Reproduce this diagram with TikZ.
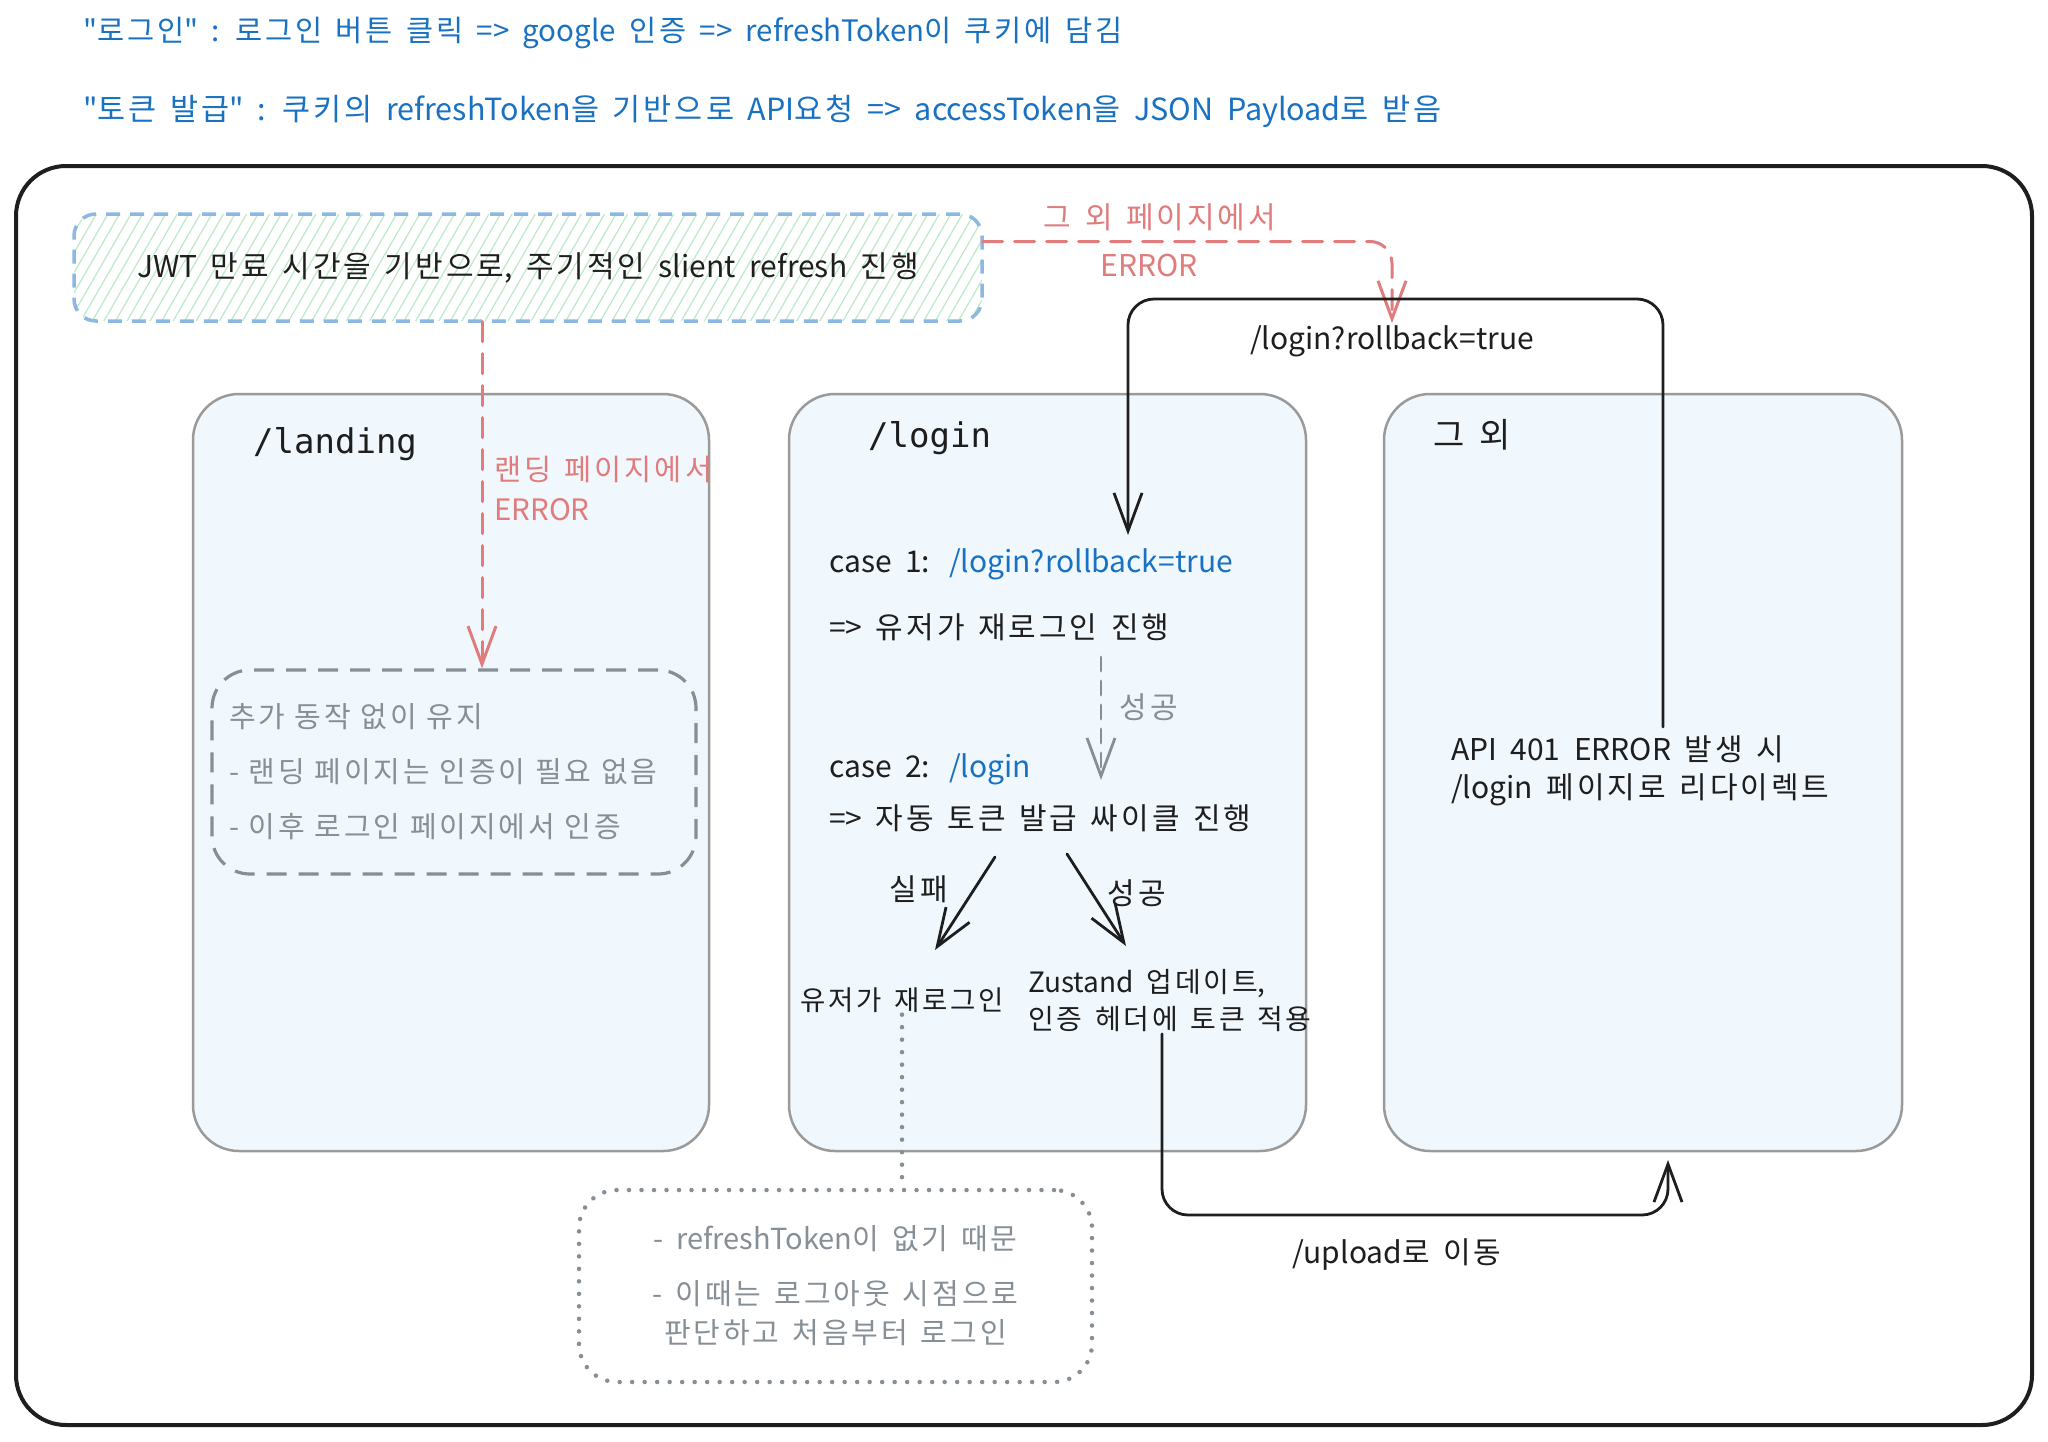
\documentclass[tikz,border=0pt]{standalone}
\usepackage{fontspec}
\setmainfont{Noto Sans CJK KR}[WordSpace=2.0]
\newfontfamily\mymono{DejaVu Sans Mono}
\usetikzlibrary{arrows.meta,patterns.meta}
% extra spacing between Hangul syllables
\XeTeXinterchartokenstate=1
\newXeTeXintercharclass\hangulcls
\newcount\hgc
\hgc="AC00
\loop
  \XeTeXcharclass\hgc=\hangulcls
  \ifnum\hgc<"D7A3 \advance\hgc by 1
\repeat
\XeTeXinterchartoks\hangulcls\hangulcls={\kern0.1em}
\definecolor{cblue}{HTML}{1971C2}
\definecolor{cred}{HTML}{E07C7C}
\definecolor{cgray}{HTML}{868E96}
\definecolor{boxgray}{HTML}{9A9A9A}
\definecolor{boxfill}{HTML}{F1F8FD}
\definecolor{jwtblue}{HTML}{8DB8E2}
\definecolor{hatchc}{HTML}{BDE9C6}
\definecolor{ink}{HTML}{1E1E1E}
\newcommand\fsTop{\fontsize{29.5}{34}\selectfont}
\newcommand\fsBody{\fontsize{30}{38}\selectfont}
\newcommand\fsGray{\fontsize{29}{55}\selectfont}
\newcommand\fsTitle{\fontsize{34}{40}\selectfont}
\begin{document}
\begin{tikzpicture}[x=1pt,y=-1pt,
  txt/.style={inner sep=2pt, font=\fsBody, text=ink},
  toptxt/.style={inner sep=2pt, font=\fsTop, text=cblue, anchor=west},
  redlbl/.style={inner sep=2pt, font=\fsBody, text=cred},
  graylbl/.style={inner sep=2pt, font=\fsBody, text=cgray},
  frame/.style={draw=ink, line width=4pt, rounded corners=50pt},
  page/.style={draw=boxgray, line width=2.5pt, fill=boxfill, rounded corners=46pt},
  jwtbox/.style={draw=jwtblue, line width=3.5pt, dash pattern=on 14pt off 10pt,
    rounded corners=22pt, pattern={Lines[angle=60,distance=10pt,line width=1.2pt]},
    pattern color=hatchc, font=\fsBody, text=ink},
  ldboxst/.style={draw=cgray, line width=3.2pt, dash pattern=on 20pt off 12pt,
    rounded corners=38pt, font=\fsGray, text=cgray},
  dotboxst/.style={draw=cgray, line width=4.5pt, line cap=round, dash pattern=on 0pt off 12.5pt,
    rounded corners=38pt, font=\fsGray, text=cgray},
  dotline/.style={draw=cgray, line width=4.5pt, line cap=round, dash pattern=on 0pt off 12.5pt},
  arr/.style={-{Straight Barb[length=38pt,width=28pt]}, line width=2.8pt, line cap=round, line join=round, draw=ink},
  redarr/.style={arr, draw=cred, dash pattern=on 20pt off 12pt, line width=3pt},
  grayarr/.style={arr, draw=cgray, dash pattern=on 14pt off 10pt, line width=2.8pt},
  title/.style={inner sep=2pt, anchor=west, text=ink}
]
\useasboundingbox[fill=white] (0,0) rectangle (2048,1441);

% top notes
\node[toptxt] (note1) at (81,33) {\textquotedbl 로그인\textquotedbl{} : 로그인 버튼 클릭 => google 인증 => refreshToken이 쿠키에 담김};
\node[toptxt, font=\fontsize{30.5}{34}\selectfont] (note2) at (81,111) {\textquotedbl 토큰 발급\textquotedbl{} : 쿠키의 refreshToken을 기반으로 API요청 => accessToken을 JSON Payload로 받음};

% outer frame
\node[frame, minimum width=2016pt, minimum height=1259pt] (frame) at (1024,795.5) {};

% page boxes
\node[page, minimum width=516pt, minimum height=757pt] (landing) at (451,772.5) {};
\node[page, minimum width=517pt, minimum height=757pt] (login) at (1047.5,772.5) {};
\node[page, minimum width=518pt, minimum height=757pt] (other) at (1643,772.5) {};

\node[title, font=\mymono\fsTitle] (landingT) at (251,444) {/landing};
\node[title, font=\mymono\fsTitle] (loginT) at (866,438) {/login};
\node[title, font=\fontsize{34}{40}\selectfont] (otherT) at (1431,435) {그 외};

% JWT box
\node[jwtbox, minimum width=908pt, minimum height=107pt] (jwt) at (528,267.5)
  {JWT 만료 시간을 기반으로, 주기적인 slient refresh 진행};

% landing inner dashed box
\node[ldboxst, minimum width=484pt, minimum height=204pt, text width=450pt, align=left] (ldbox) at (454,772)
  {추가 동작 없이 유지\\- 랜딩 페이지는 인증이 필요 없음\\- 이후 로그인 페이지에서 인증};

% login contents
\node[txt, anchor=west] (case1) at (827,564) {\makebox[120pt][l]{case 1:}\textcolor{cblue}{/login?rollback=true}};
\node[txt, anchor=west] (case1b) at (827,627) {=> 유저가 재로그인 진행};
\node[txt, anchor=west] (case2) at (827,769) {\makebox[120pt][l]{case 2:}\textcolor{cblue}{/login}};
\node[txt, anchor=west] (case2b) at (827,818) {=> 자동 토큰 발급 싸이클 진행};
\node[txt, font=\fontsize{27.5}{36}\selectfont] (retry) at (902,1000) {유저가 재로그인};
\node[txt, anchor=west, align=left, font=\fontsize{28}{37}\selectfont] (zus) at (1026,1000.5) {Zustand 업데이트,\\인증 헤더에 토큰 적용};

\node[graylbl] (ok1) at (1149,707) {성공};
\node[txt] (failL) at (919,889) {실패};
\node[txt] (okL) at (1137,893) {성공};

% other contents
\node[txt, anchor=west, align=left] (api) at (1449,771) {API 401 ERROR 발생 시\\/login 페이지로 리다이렉트};

% labels
\node[txt] (rbl) at (1392,341) {/login?rollback=true};
\node[redlbl] (redtop1) at (1160,217) {그 외 페이지에서};
\node[redlbl] (redtop2) at (1149,265) {ERROR};
\node[redlbl, anchor=west, align=left, font=\fontsize{29.5}{40}\selectfont] (lderr) at (492,488) {랜딩 페이지에서\\ERROR};
\node[txt] (uplbl) at (1397,1255) {/upload로 이동};

% dotted box
\node[dotboxst, minimum width=513pt, minimum height=192pt, align=center] (dotbox) at (835.5,1286)
  {- refreshToken이 없기 때문\\- 이때는 로그아웃 시점으로\\[-16pt]판단하고 처음부터 로그인};

% coordinates
\coordinate (apitop) at (1663,727);
\coordinate (c1tip) at (1128,535);
\coordinate (s1a) at (1101,657);
\coordinate (s1b) at (1101,780);
\coordinate (f1) at (995,857);
\coordinate (f2) at (935,950);
\coordinate (g1) at (1067,854);
\coordinate (g2) at (1126,946);
\coordinate (ubot) at (1668,1215);
\coordinate (uptip) at (1668,1160);

% connectors
\draw[redarr, rounded corners=22pt] ([yshift=26pt]jwt.east) -| (rbl.north);
\draw[redarr] (jwt.south -| 482,0) -- (ldbox.north -| 482,0);
\draw[arr, rounded corners=26pt] (apitop) -- ++(0,-428) -| (c1tip);
\draw[grayarr] (s1a) -- (s1b);
\draw[arr] (f1) -- (f2);
\draw[arr] (g1) -- (g2);
\draw[arr, rounded corners=26pt] (zus.south -| 1162,0) |- (ubot) -- (uptip);
\draw[dotline] (retry.south) -- (retry.south |- dotbox.north);
\end{tikzpicture}
\end{document}
